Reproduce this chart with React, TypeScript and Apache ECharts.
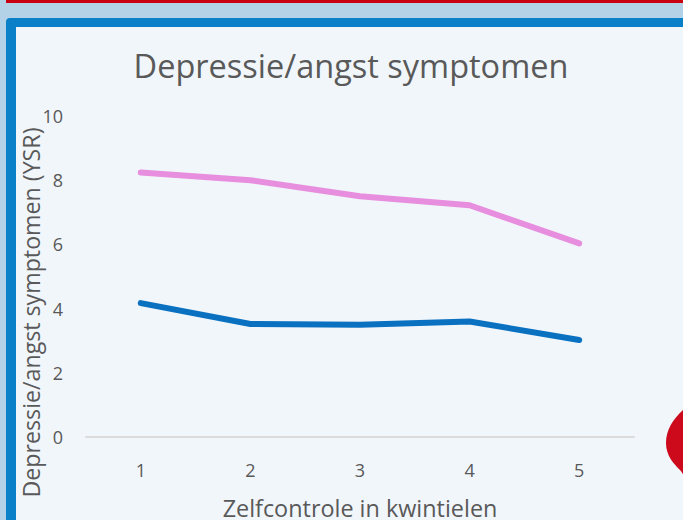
import React, { useEffect, useRef } from "react";
import * as echarts from "echarts";

const categories = ["1", "2", "3", "4", "5"];
const pinkValues = [8.24, 8.0, 7.5, 7.22, 6.03];
const blueValues = [4.17, 3.52, 3.5, 3.6, 3.02];
const titleText = "Depressie/angst symptomen";
const yAxisTitle = "Depressie/angst symptomen (YSR)";
const xAxisTitle = "Zelfcontrole in kwintielen";
const FONT = "'Open Sans'";

echarts.graphic.registerShape(
  "heartBlob",
  echarts.graphic.extendPath(
    "M17 0 C7 9 0 20 0 33 C0 46 8 54 14 60 C17 63 19 68 20 72 L30 72 L30 0 Z",
    {}
  ) as any
);

export default function App() {
  const ref = useRef<HTMLDivElement>(null);
  useEffect(() => {
    document.body.style.margin = "0";
    const chart = echarts.init(ref.current!, null, { renderer: "svg" });
    chart.setOption({
      animation: false,
      backgroundColor: "#b3d2e7",
      title: {
        text: titleText,
        left: 346,
        top: 44,
        textAlign: "center",
        textStyle: { fontFamily: FONT, fontSize: 32.5, fontWeight: "normal", color: "#595959" },
      },
      grid: { left: 86, right: 49, top: 116, bottom: 83, outerBoundsMode: "none" },
      graphic: [
        { type: "rect", z: -10, shape: { x: 6, y: -10, width: 702, height: 13 }, style: { fill: "#c8000f" } },
        { type: "rect", z: -10, shape: { x: 6, y: 18, width: 700, height: 520, r: 4 }, style: { fill: "#0a80c8" } },
        { type: "rect", z: -9, shape: { x: 16, y: 27, width: 680, height: 500 }, style: { fill: "#f1f6fb" } },
        { type: "heartBlob", z: 10, x: 666, y: 410, style: { fill: "#cc0a1b" } },
      ],
      xAxis: {
        type: "category",
        data: categories,
        name: xAxisTitle,
        nameLocation: "middle",
        nameGap: 61,
        nameMoveOverlap: false,
        nameTextStyle: { fontFamily: FONT, fontSize: 23.4, lineHeight: 20, color: "#595959" },
        axisLine: { lineStyle: { color: "#dcdcdc", width: 2 } },
        axisTick: { show: false },
        axisLabel: { fontFamily: FONT, fontSize: 18, color: "#595959", margin: 24 },
      },
      yAxis: {
        type: "value",
        min: 0,
        max: 10,
        interval: 2,
        name: yAxisTitle,
        nameLocation: "middle",
        nameGap: 44,
        nameMoveOverlap: false,
        nameTextStyle: { fontFamily: FONT, fontSize: 23.2, color: "#595959", padding: [0, 72, 0, 0] },
        axisLine: { show: false },
        axisTick: { show: false },
        splitLine: { show: false },
        axisLabel: { fontFamily: FONT, fontSize: 18, color: "#595959", margin: 23 },
      },
      series: [
        {
          type: "line",
          data: pinkValues,
          symbol: "none",
          lineStyle: { color: "#e78ede", width: 6, cap: "round" },
        },
        {
          type: "line",
          data: blueValues,
          symbol: "none",
          lineStyle: { color: "#0a70c0", width: 6, cap: "round" },
        },
      ],
    });
    return () => chart.dispose();
  }, []);
  return <div ref={ref} style={{ width: 683, height: 520 }} />;
}
